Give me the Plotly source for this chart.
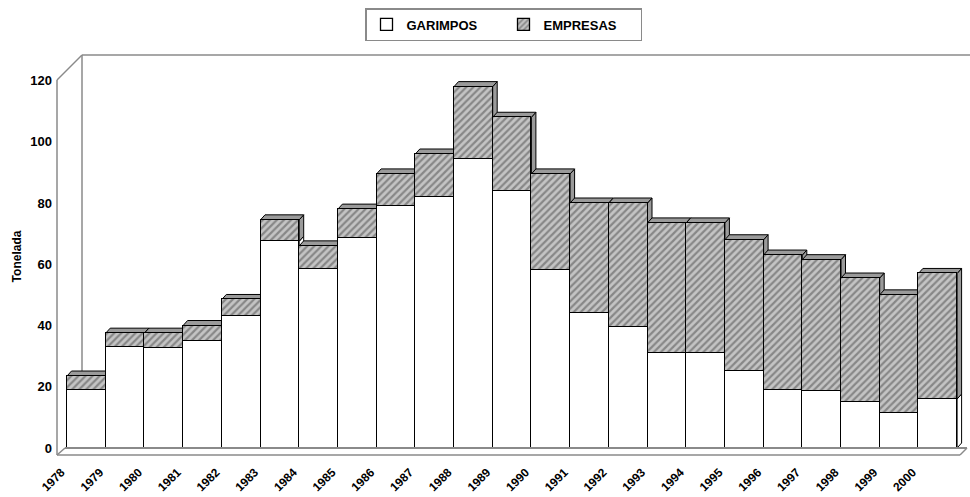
import plotly.graph_objects as go

# Gold production (tonnes) by source, Brazil 1978-2000
years = list(range(1978, 2001))
garimpos = [19, 33, 32.5, 35, 43, 67.5, 58.5, 68.5, 79, 82, 94.5, 84, 58,
            44, 39.5, 31, 31, 25, 19, 18.5, 15, 11.5, 16]
empresas = [4.5, 4.5, 5, 5, 5.5, 7, 7.5, 9.5, 10.5, 14, 23.5, 24, 31.5,
            36, 40.5, 42.5, 42.5, 43, 44, 43, 40.5, 38.5, 41]
y_ticks = [0, 20, 40, 60, 80, 100, 120]

# figure geometry (pixels)
W, H = 970, 497
ML, MR, MT, MB = 57, 5, 58, 42
PW, PH = W - ML - MR, H - MT - MB
BAR_PX = 38.7                     # width of one category
X0 = years[0] - (86.35 - ML) / BAR_PX
XR = [X0, X0 + PW / BAR_PX]
SY = 3.0625                       # px per tonne
Y0 = -7 / SY
YR = [Y0, Y0 + PH / SY]

# depth offset of the pseudo-3D bars, in data units
DX = 4.5 / BAR_PX
DY = 5.0 / SY

FONT = "Liberation Sans, Arial, sans-serif"
HATCH_BG = "#c4c4c4"
HATCH_FG = "#4a4a4a"
WALL = "#8a8a8a"

fig = go.Figure()
fig.add_trace(go.Bar(
    x=years, y=garimpos, name="GARIMPOS",
    marker=dict(color="white", line=dict(color="black", width=1.3)),
))
fig.add_trace(go.Bar(
    x=years, y=empresas, name="EMPRESAS",
    marker=dict(color=HATCH_BG, line=dict(color="black", width=1.3),
                pattern=dict(shape="/", fgcolor=HATCH_FG, bgcolor=HATCH_BG,
                             size=5, solidity=0.45)),
))


def px(xp, yp):
    """pixel position -> paper coordinates"""
    return (xp - ML) / PW, (H - MB - yp) / PH


shapes = []


def wall_line(a, b, layer="above", width=1.5):
    xa, ya = px(*a)
    xb, yb = px(*b)
    shapes.append(dict(type="line", xref="paper", yref="paper",
                       x0=xa, y0=ya, x1=xb, y1=yb, layer=layer,
                       line=dict(color=WALL, width=width)))


# walls and floor of the 3-D box
wall_line((82, 55), (82, 448), layer="below")
wall_line((82, 55), (970, 55))
wall_line((57, 80), (82, 55))
wall_line((57, 80), (57, 455))
wall_line((57, 455), (960, 455))
wall_line((65, 448), (967, 448), width=2)
wall_line((57, 455), (65, 448))
wall_line((960, 455), (967, 448))


def poly(pts, fill):
    d = "M " + " L ".join(f"{x:.4f},{y:.4f}" for x, y in pts) + " Z"
    shapes.append(dict(type="path", xref="x", yref="y", path=d,
                       fillcolor=fill, layer="below",
                       line=dict(color="black", width=1)))


# right-hand side faces of each bar
for yr, g, e in zip(years, garimpos, empresas):
    x1 = yr + 0.5
    t = g + e
    poly([(x1, 0), (x1, g), (x1 + DX, g + DY), (x1 + DX, DY)], "white")
    poly([(x1, g), (x1, t), (x1 + DX, t + DY), (x1 + DX, g + DY)], "#9a9a9a")

# top caps of each bar
for yr, g, e in zip(years, garimpos, empresas):
    x0, x1 = yr - 0.5, yr + 0.5
    t = g + e
    poly([(x0, t), (x1, t), (x1 + DX, t + DY), (x0 + DX, t + DY)], "#9a9a9a")

lx, ly = px(365, 8)
fig.update_layout(
    width=W, height=H,
    margin=dict(l=ML, r=MR, t=MT, b=MB),
    paper_bgcolor="white", plot_bgcolor="white",
    barmode="stack", bargap=0,
    font=dict(family=FONT, size=12, color="black"),
    showlegend=True,
    legend=dict(orientation="h", x=lx, y=ly, xanchor="left", yanchor="top",
                bordercolor=WALL, borderwidth=1.5, bgcolor="white",
                font=dict(family=FONT, size=13, color="black", weight="bold"),
                itemwidth=30, entrywidth=92, traceorder="normal",
                itemclick=False),
    shapes=shapes,
    xaxis=dict(range=XR, tickvals=years, ticktext=[str(y) for y in years],
               tickangle=-45, showgrid=False, zeroline=False, showline=False,
               ticks="", automargin=False, ticklabelshift=-25,
               ticklabelstandoff=7,
               tickfont=dict(family=FONT, size=12, weight="bold")),
    yaxis=dict(range=YR, tickvals=y_ticks, showgrid=False, zeroline=False,
               showline=False, ticks="", automargin=False,
               ticklabelstandoff=4,
               tickfont=dict(family=FONT, size=13, weight="bold"),
               title=dict(text="Tonelada", standoff=6,
                          font=dict(family=FONT, size=12, weight="bold"))),
)

fig.write_html("out.html")
